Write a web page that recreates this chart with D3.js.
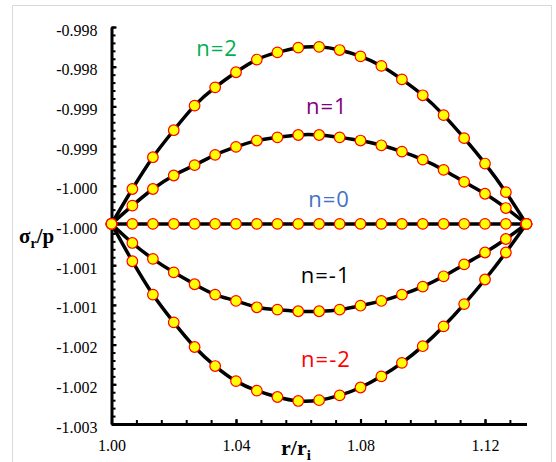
<!DOCTYPE html>
<html>
<head>
<meta charset="utf-8">
<script src="https://cdn.jsdelivr.net/npm/d3@7/dist/d3.min.js"></script>
<style>
  body { margin: 0; background: #fff; }
</style>
</head>
<body>
<div id="chart"></div>
<script>
// r/ri positions of the points
var xValues = [1.0000, 1.0067, 1.0133, 1.0200, 1.0267, 1.0333, 1.0400, 1.0467, 1.0533, 1.0600, 1.0667,
               1.0733, 1.0800, 1.0867, 1.0933, 1.1000, 1.1067, 1.1133, 1.1200, 1.1267, 1.1333];

// sigma_r / p for each n
var nPlus2 = [-1.00000, -0.99956, -0.99916, -0.99882, -0.99851, -0.99828, -0.99809, -0.99793, -0.99784, -0.99778, -0.99777,
              -0.99781, -0.99789, -0.99801, -0.99818, -0.99838, -0.99863, -0.99892, -0.99924, -0.99960, -1.00000];
var nPlus1 = [-1.00000, -0.99977, -0.99956, -0.99939, -0.99926, -0.99913, -0.99903, -0.99895, -0.99891, -0.99888, -0.99888,
              -0.99891, -0.99895, -0.99901, -0.99909, -0.99919, -0.99932, -0.99947, -0.99962, -0.99980, -1.00000];
var nZero  = [-1.00000, -1.00000, -1.00000, -1.00000, -1.00000, -1.00000, -1.00000, -1.00000, -1.00000, -1.00000, -1.00000,
              -1.00000, -1.00000, -1.00000, -1.00000, -1.00000, -1.00000, -1.00000, -1.00000, -1.00000, -1.00000];
var nMinus1 = [-1.00000, -1.00024, -1.00044, -1.00061, -1.00076, -1.00089, -1.00097, -1.00105, -1.00108, -1.00110, -1.00110,
               -1.00108, -1.00103, -1.00097, -1.00089, -1.00079, -1.00066, -1.00051, -1.00036, -1.00019, -1.00000];
var nMinus2 = [-1.00000, -1.00047, -1.00089, -1.00124, -1.00155, -1.00179, -1.00198, -1.00210, -1.00218, -1.00223, -1.00222,
               -1.00216, -1.00206, -1.00192, -1.00175, -1.00154, -1.00129, -1.00101, -1.00070, -1.00036, -1.00000];

var seriesNames = ["n=2", "n=1", "n=0", "n=-1", "n=-2"];
var seriesValues = [nPlus2, nPlus1, nZero, nMinus1, nMinus2];

var xTickValues = [1.00, 1.04, 1.08, 1.12];
var xTickLabels = ["1.00", "1.04", "1.08", "1.12"];
var yTickLabels = ["-0.998", "-0.998", "-0.999", "-0.999", "-1.000", "-1.000",
                   "-1.001", "-1.001", "-1.002", "-1.002", "-1.003"];

var width = 556, height = 462;

var svg = d3.select("#chart")
  .append("svg")
  .attr("width", width)
  .attr("height", height);

// outer chart frame
svg.append("rect")
  .attr("x", 12.5).attr("y", 5.5)
  .attr("width", 539).attr("height", 470)
  .style("fill", "none")
  .style("stroke", "#d9d9d9")
  .style("stroke-width", 1);

var yDomain = [-1.00252, -0.99752];
var x = d3.scaleLinear().domain([1, 1.13333]).range([111.5, 526.5]);
var y = d3.scaleLinear().domain(yDomain).range([424, 27]);

var yTickValues = d3.range(yTickLabels.length).map(function(i) { return yDomain[1] - i * 0.0005; });
var yMinorValues = d3.range(51).map(function(i) { return yDomain[1] - i * 0.0001; });
var xMinorValues = d3.range(17).map(function(i) { return 1 + i * 0.008; });

// ---------- axes ----------
var xMinor = svg.append("g")
  .attr("transform", "translate(0," + y.range()[0] + ")")
  .call(d3.axisBottom(x).tickValues(xMinorValues).tickSizeInner(-4).tickSizeOuter(0).tickFormat(""));
var yMinor = svg.append("g")
  .attr("transform", "translate(" + x.range()[0] + ",0)")
  .call(d3.axisLeft(y).tickValues(yMinorValues).tickSizeInner(-4).tickSizeOuter(0).tickFormat(""));
[xMinor, yMinor].forEach(function(g) {
  g.select(".domain").remove();
  g.selectAll(".tick line").style("stroke", "#000").style("stroke-width", 2);
});

var xAxis = svg.append("g")
  .attr("transform", "translate(0," + y.range()[0] + ")")
  .call(d3.axisBottom(x)
    .tickValues(xTickValues)
    .tickSizeInner(-5).tickSizeOuter(0).tickPadding(16)
    .tickFormat(function(d, i) { return xTickLabels[i]; }));

var yAxis = svg.append("g")
  .attr("transform", "translate(" + x.range()[0] + ",0)")
  .call(d3.axisLeft(y)
    .tickValues(yTickValues)
    .tickSizeInner(-5).tickSizeOuter(0).tickPadding(14)
    .tickFormat(function(d, i) { return yTickLabels[i]; }));

[xAxis, yAxis].forEach(function(g) {
  g.select(".domain").style("stroke", "#000").style("stroke-width", 3);
  g.selectAll(".tick line").style("stroke", "#000").style("stroke-width", 2.2);
  g.selectAll(".tick text")
    .style("font-family", "'Liberation Serif', 'Times New Roman', serif")
    .style("font-size", "16px")
    .style("fill", "#000");
});
yAxis.selectAll(".tick text").attr("dy", "0.5em");

// axis titles
var yTitle = svg.append("text")
  .attr("x", 19).attr("y", 243)
  .style("font-family", "'Liberation Serif', 'Times New Roman', serif")
  .style("font-size", "21px")
  .style("font-weight", "bold");
yTitle.append("tspan").text("σ");
yTitle.append("tspan").text("r").style("font-size", "14px").attr("dy", 5);
yTitle.append("tspan").text("/p").attr("dy", -5);

var xTitle = svg.append("text")
  .attr("x", 296).attr("y", 455)
  .attr("text-anchor", "middle")
  .style("font-family", "'Liberation Serif', 'Times New Roman', serif")
  .style("font-size", "22px")
  .style("font-weight", "bold");
xTitle.append("tspan").text("r/r");
xTitle.append("tspan").text("i").style("font-size", "15px").attr("dy", 5);

// ---------- curves ----------
var line = d3.line()
  .x(function(d) { return x(d[0]); })
  .y(function(d) { return y(d[1]); })
  .curve(d3.curveNatural);

var series = seriesValues.map(function(vals) {
  return vals.map(function(v, i) { return [xValues[i], v]; });
});

svg.append("g")
  .selectAll("path")
  .data(series)
  .enter().append("path")
  .attr("d", line)
  .style("fill", "none")
  .style("stroke", "#000")
  .style("stroke-width", 3.5);

svg.append("g")
  .selectAll("g")
  .data(series)
  .enter().append("g")
  .selectAll("circle")
  .data(function(d) { return d; })
  .enter().append("circle")
  .attr("cx", function(d) { return x(d[0]); })
  .attr("cy", function(d) { return y(d[1]); })
  .attr("r", 5.3)
  .style("fill", "#ffff00")
  .style("stroke", "#ff0000")
  .style("stroke-width", 1.2);

// ---------- series labels ----------
var labelColors = ["#00b050", "#7f007f", "#4472c4", "#000000", "#ff0000"];
var labelPos = [[1.0339, -0.99788], [1.0692, -0.998614], [1.0699, -0.99979], [1.0688, -1.000747], [1.0689, -1.001806]];

svg.append("g")
  .selectAll("text")
  .data(seriesNames)
  .enter().append("text")
  .attr("x", function(d, i) { return x(labelPos[i][0]); })
  .attr("y", function(d, i) { return y(labelPos[i][1]); })
  .attr("text-anchor", "middle")
  .style("font-family", "'Open Sans', sans-serif")
  .style("font-size", "22px")
  .style("letter-spacing", "1px")
  .style("fill", function(d, i) { return labelColors[i]; })
  .text(function(d) { return d; });
</script>
</body>
</html>
